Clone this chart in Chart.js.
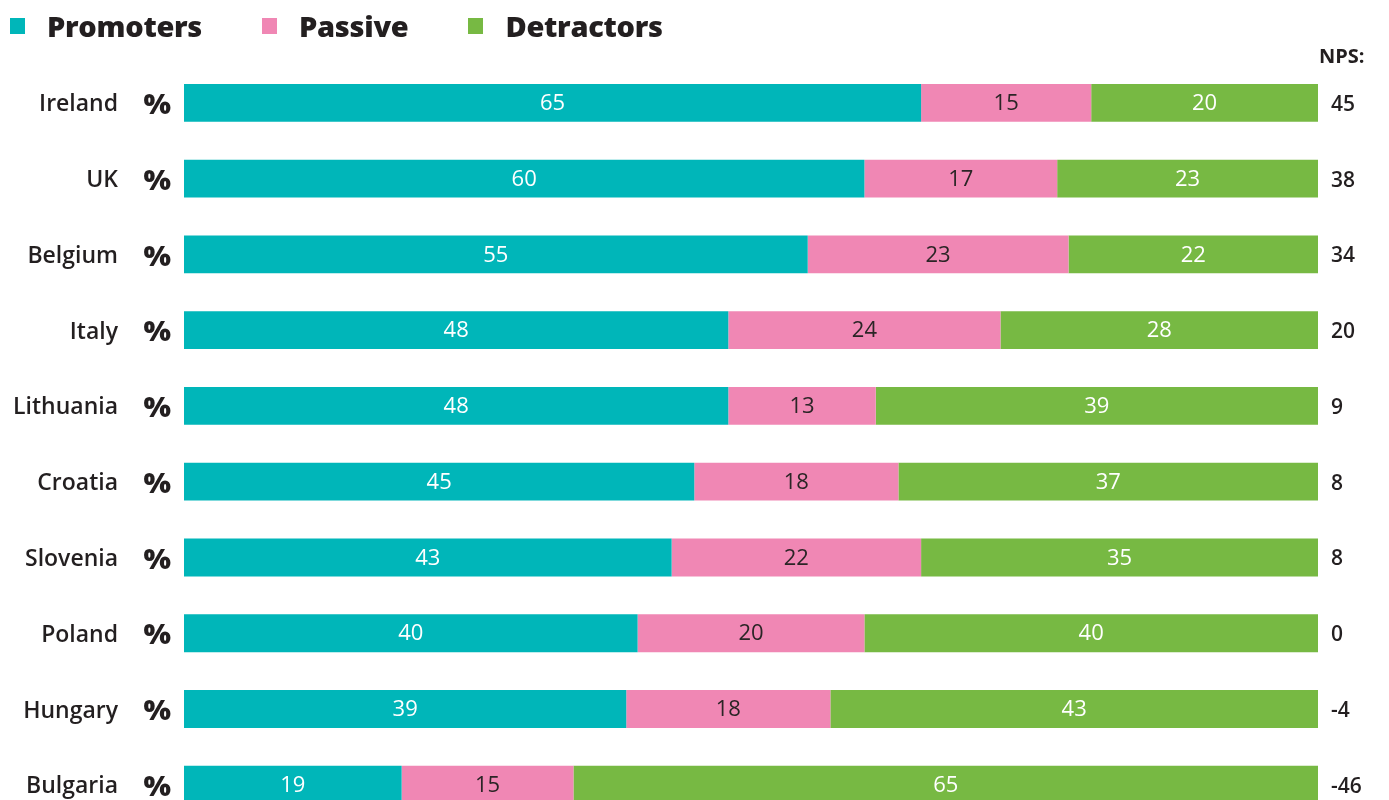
<!DOCTYPE html>
<html>
<head>
<meta charset="utf-8">
<script src="https://cdn.jsdelivr.net/npm/chart.js@4.4.1/dist/chart.umd.min.js"></script>
<style>
  html, body { margin: 0; padding: 0; background: #fff; overflow: hidden; }
  #wrap { position: relative; width: 1389px; height: 800px; overflow: hidden; }
  #chart { position: absolute; left: 0; top: 0; }
  .legend { position: absolute; left: 10px; top: 6px; font-family: "Open Sans", sans-serif; font-weight: 800; font-size: 29px; color: #231f20; display: flex; }
  .legend span { display: inline-flex; align-items: center; margin-right: 60px; letter-spacing: -0.3px; }
  .legend i { display: inline-block; width: 15px; height: 16px; margin-right: 22px; }
</style>
</head>
<body>
<div id="wrap">
  <canvas id="chart" width="1389" height="853"></canvas>
  <div class="legend" id="legend"></div>
</div>
<script>
let countries = ["Ireland", "UK", "Belgium", "Italy", "Lithuania", "Croatia", "Slovenia", "Poland", "Hungary", "Bulgaria"];
let promoters = [65, 60, 55, 48, 48, 45, 43, 40, 39, 19];
let passive = [15, 17, 23, 24, 13, 18, 22, 20, 18, 15];
let detractors = [20, 23, 22, 28, 39, 37, 35, 40, 43, 65];
let nps = ["45", "38", "34", "20", "9", "8", "8", "0", "-4", "-46"];

let seriesNames = ["Promoters", "Passive", "Detractors"];
let seriesColors = ["#00b6b9", "#f087b4", "#77b943"];
let labelColors = ["#ffffff", "#2b2526", "#ffffff"];

// each row is drawn as a 100% stacked bar, labels keep the raw values
let rowTotals = countries.map((c, i) => promoters[i] + passive[i] + detractors[i]);
function share(arr) {
  return arr.map((v, i) => v / rowTotals[i] * 100);
}

// html legend
let legend = document.getElementById("legend");
seriesNames.forEach((name, i) => {
  let s = document.createElement("span");
  s.innerHTML = `<i style="background:${seriesColors[i]}"></i>${name}`;
  legend.appendChild(s);
});

// value labels inside the bars + NPS header
const barLabels = {
  id: "barLabels",
  afterDatasetsDraw(chart) {
    let ctx = chart.ctx;
    ctx.save();
    ctx.font = "22px 'Open Sans'";
    ctx.textAlign = "center";
    ctx.textBaseline = "middle";
    chart.data.datasets.forEach((ds, d) => {
      let meta = chart.getDatasetMeta(d);
      meta.data.forEach((bar, i) => {
        ctx.fillStyle = labelColors[d];
        ctx.fillText(ds.rawValues[i], (bar.x + bar.base) / 2, bar.y + 1);
      });
    });
    ctx.fillStyle = "#231f20";
    ctx.font = "bold 20px 'Open Sans'";
    ctx.textAlign = "left";
    ctx.fillText("NPS:", 1319, 57);
    ctx.restore();
  }
};

let ctx = document.getElementById("chart");

let chart = new Chart(ctx, {
  type: "bar",
  data: {
    labels: countries,
    datasets: [
      { label: "Promoters", data: share(promoters), rawValues: promoters, backgroundColor: seriesColors[0] },
      { label: "Passive", data: share(passive), rawValues: passive, backgroundColor: seriesColors[1] },
      { label: "Detractors", data: share(detractors), rawValues: detractors, backgroundColor: seriesColors[2] }
    ]
  },
  options: {
    indexAxis: "y",
    responsive: false,
    animation: false,
    layout: { padding: { top: 65, left: 0, right: 0, bottom: 8 } },
    plugins: {
      legend: { display: false },
      tooltip: { enabled: false }
    },
    datasets: {
      bar: { barPercentage: 0.5, categoryPercentage: 1, borderWidth: 0 }
    },
    scales: {
      x: {
        stacked: true,
        min: 0,
        max: 100,
        display: false
      },
      y: {
        stacked: true,
        position: "left",
        weight: 1,
        grid: { display: false, drawTicks: false },
        border: { display: false },
        ticks: {
          color: "#231f20",
          padding: 12,
          labelOffset: 2,
          font: { family: "Open Sans", size: 23, weight: "600" }
        },
        afterFit(scale) { scale.width = 130; }
      },
      yPct: {
        type: "category",
        labels: countries.map(() => "%"),
        position: "left",
        weight: 0,
        grid: { display: false, drawTicks: false },
        border: { display: false },
        ticks: {
          color: "#231f20",
          padding: 13,
          labelOffset: 3,
          font: { family: "Open Sans", size: 29, weight: "800" }
        },
        afterFit(scale) { scale.width = 54; }
      },
      yNps: {
        type: "category",
        labels: nps,
        position: "right",
        grid: { display: false, drawTicks: false },
        border: { display: false },
        ticks: {
          color: "#231f20",
          padding: 13,
          labelOffset: 2,
          font: { family: "Open Sans", size: 21, weight: "600" }
        },
        afterFit(scale) { scale.width = 71; }
      }
    }
  },
  plugins: [barLabels]
});
</script>
</body>
</html>
